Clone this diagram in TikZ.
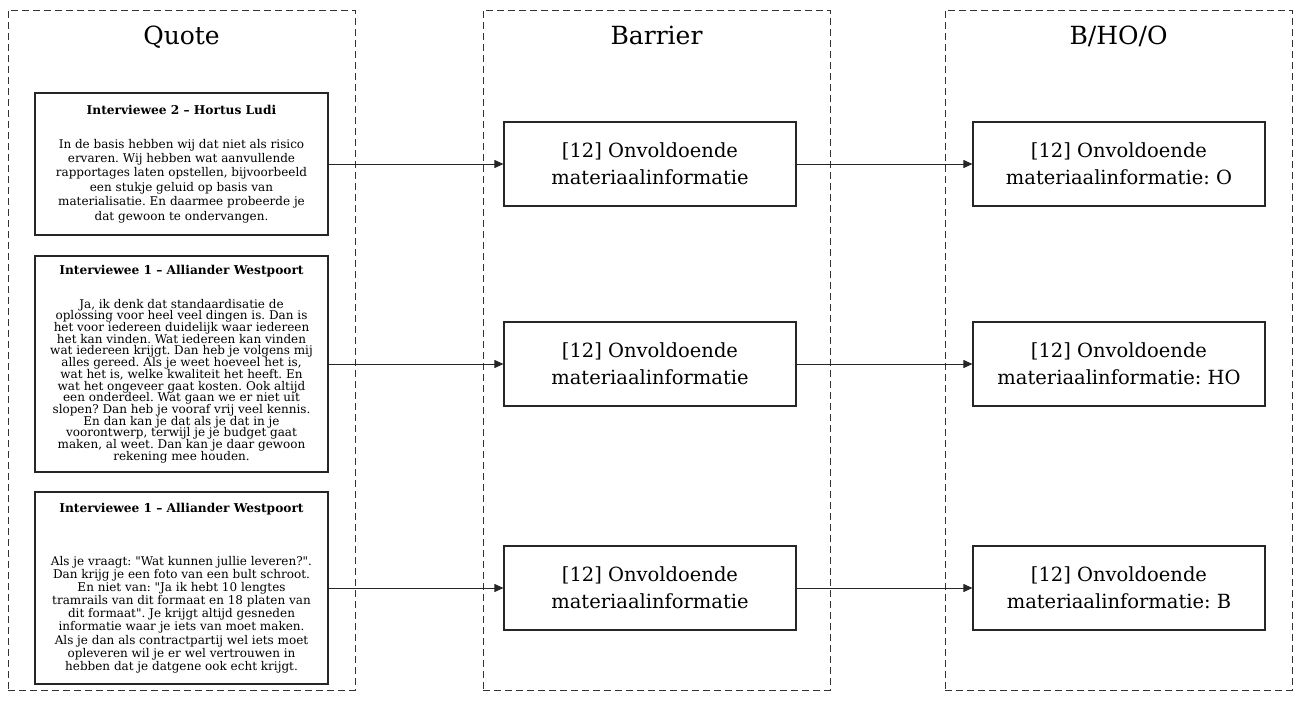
\documentclass[tikz,border=0pt]{standalone}
\usepackage{fontspec}
% plain family without TeX ligatures, so that " stays a straight quote
\newfontfamily\diagfont{DejaVu Serif}
\usetikzlibrary{arrows.meta}
\begin{document}
\diagfont\frenchspacing
\begin{tikzpicture}[x=1pt,y=-1pt,
  lane/.style={draw=black!80, line width=0.9pt, dash pattern=on 7pt off 4pt,
    minimum width=347pt, minimum height=680pt, inner sep=0pt},
  lanetitle/.style={anchor=base, font=\fontsize{25}{30}\selectfont},
  quotebox/.style={draw=black!85, line width=1.2pt, minimum width=293pt,
    inner sep=0pt},
  itembox/.style={draw=black!85, line width=1.2pt, minimum width=292pt,
    minimum height=84pt, inner sep=0pt, align=center,
    font=\fontsize{19.5}{27}\selectfont},
  link/.style={line width=1pt, draw=black!85, -{Triangle[length=9pt,width=8pt]}}
]
% quote text: #1 line pitch, #2 speaker, #3 gap below speaker, #4 quote lines
\newcommand{\quotetext}[4]{\parbox{289pt}{\centering
  \fontsize{12}{#1}\selectfont\lineskiplimit=-50pt
  {\bfseries\fontsize{12.2}{13}\selectfont #2}\\[#3]
  #4\par}}
\useasboundingbox (0,0) rectangle (1296,702);

% swim lanes
\node[lane] (quotelane) at (181.5,350) {};
\node[lane] (barrierlane) at (656.5,350) {};
\node[lane] (classlane) at (1118.5,350) {};
\node[lanetitle] (quotetitle) at (181.5,44) {Quote};
\node[lanetitle] (barriertitle) at (656.5,44) {Barrier};
\node[lanetitle] (classtitle) at (1118.5,44) {B/HO/O};

% quotes
\node[quotebox, minimum height=142pt] (q1) at (181.5,164) {%
\quotetext{14.4pt}{Interviewee 2 – Hortus Ludi}{19pt}{%
In de basis hebben wij dat niet als risico\\
ervaren. Wij hebben wat aanvullende\\
rapportages laten opstellen, bijvoorbeeld\\
een stukje geluid op basis van\\
materialisatie. En daarmee probeerde je\\
dat gewoon te ondervangen.}};

\node[quotebox, minimum height=216pt] (q2) at (181.5,364) {%
\quotetext{11.7pt}{Interviewee 1 – Alliander Westpoort}{22pt}{%
Ja, ik denk dat standaardisatie de\\
oplossing voor heel veel dingen is. Dan is\\
het voor iedereen duidelijk waar iedereen\\
het kan vinden. Wat iedereen kan vinden\\
wat iedereen krijgt. Dan heb je volgens mij\\
alles gereed. Als je weet hoeveel het is,\\
wat het is, welke kwaliteit het heeft. En\\
wat het ongeveer gaat kosten. Ook altijd\\
een onderdeel. Wat gaan we er niet uit\\
slopen? Dan heb je vooraf vrij veel kennis.\\
En dan kan je dat als je dat in je\\
voorontwerp, terwijl je je budget gaat\\
maken, al weet. Dan kan je daar gewoon\\
rekening mee houden.}};

\node[quotebox, minimum height=192pt] (q3) at (181.5,588) {%
\quotetext{13.1pt}{Interviewee 1 – Alliander Westpoort}{40pt}{%
Als je vraagt: "Wat kunnen jullie leveren?".\\
Dan krijg je een foto van een bult schroot.\\
En niet van: "Ja ik hebt 10 lengtes\\
tramrails van dit formaat en 18 platen van\\
dit formaat". Je krijgt altijd gesneden\\
informatie waar je iets van moet maken.\\
Als je dan als contractpartij wel iets moet\\
opleveren wil je er wel vertrouwen in\\
hebben dat je datgene ook echt krijgt.}};

% barriers
\node[itembox] (b1) at (650,164) {[12] Onvoldoende\\materiaalinformatie};
\node[itembox] (b2) at (650,364) {[12] Onvoldoende\\materiaalinformatie};
\node[itembox] (b3) at (650,588) {[12] Onvoldoende\\materiaalinformatie};

% classification
\node[itembox] (r1) at (1119,164) {[12] Onvoldoende\\materiaalinformatie: O};
\node[itembox] (r2) at (1119,364) {[12] Onvoldoende\\materiaalinformatie: HO};
\node[itembox] (r3) at (1119,588) {[12] Onvoldoende\\materiaalinformatie: B};

% connectors
\draw[link] (q1.east) -- (b1.west);
\draw[link] (q2.east) -- (b2.west);
\draw[link] (q3.east) -- (b3.west);
\draw[link] (b1.east) -- (r1.west);
\draw[link] (b2.east) -- (r2.west);
\draw[link] (b3.east) -- (r3.west);
\end{tikzpicture}
\end{document}
